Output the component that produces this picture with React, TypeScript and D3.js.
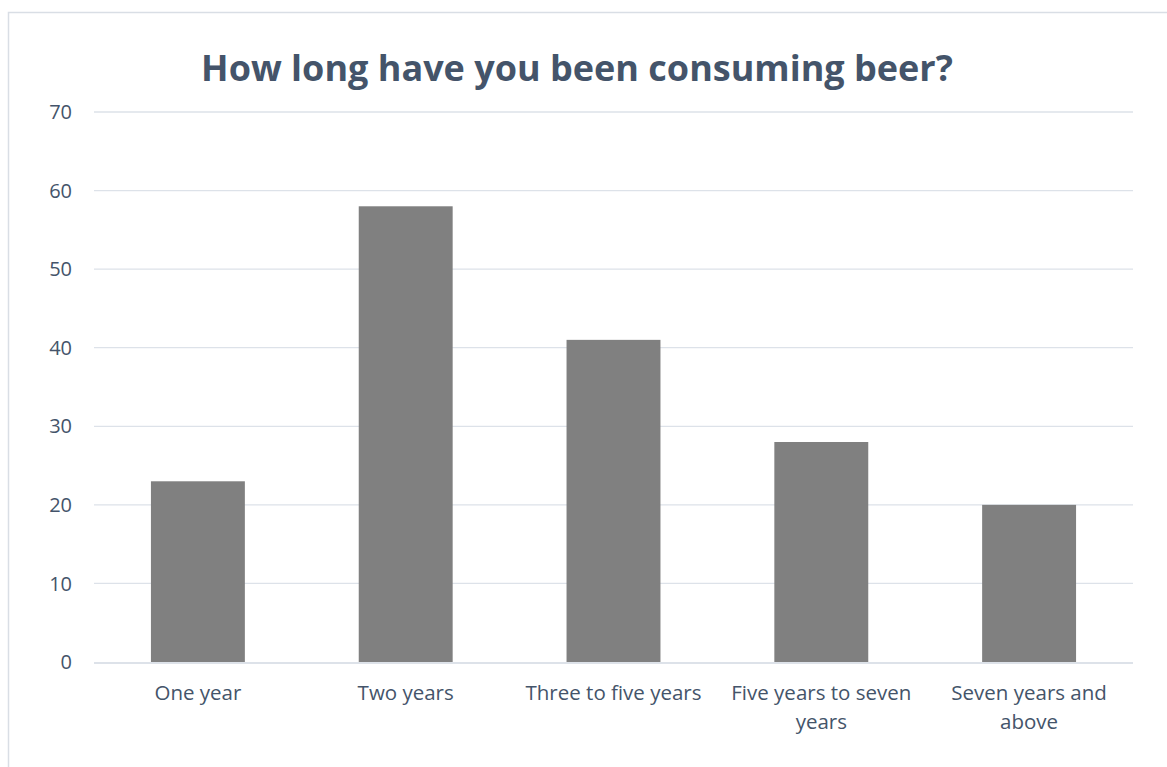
import React from "react";
import * as d3 from "d3";

const title = "How long have you been consuming beer?";
const categories = ["One year", "Two years", "Three to five years", "Five years to seven years", "Seven years and above"];
const values = [23, 58, 41, 28, 20];
const yTicks = [0, 10, 20, 30, 40, 50, 60, 70];

const W = 1167;
const H = 767;
const FONT = "'Open Sans', 'Noto Sans', sans-serif";
const TEXT = "#44546A";
const GRID = "#DDE2E9";
const BAR = "#808080";

function wrap(label: string, maxW: number, font: string): string[] {
  const c = document.createElement("canvas").getContext("2d");
  if (!c) return [label];
  c.font = font;
  const words = label.split(" ");
  const lines: string[] = [];
  let cur = "";
  for (const w of words) {
    const t = cur ? cur + " " + w : w;
    if (c.measureText(t).width > maxW && cur) {
      lines.push(cur);
      cur = w;
    } else cur = t;
  }
  if (cur) lines.push(cur);
  return lines;
}

export default function App() {
  const left = 94, right = 1133, top = 112, bottom = 662;
  const x = d3.scaleBand<string>().domain(categories).range([left, right]).paddingInner(0.548).paddingOuter(0.274);
  const y = d3.scaleLinear().domain([0, 70]).range([bottom, top]);
  const labelSize = 20.5;
  const labelFont = `${labelSize}px 'Open Sans'`;
  return (
    <svg width={W} height={H} style={{ position: "absolute", left: 0, top: 0, background: "#fff" }} fontFamily={FONT}>
      <rect x={8.5} y={12.5} width={W + 10} height={H + 10} fill="#fff" stroke="#D9DEE5" strokeWidth={1.5} />
      <text x={577} y={81} textAnchor="middle" fontSize={36} fontWeight={700} fill={TEXT}>{title}</text>
      {yTicks.map((t) => (
        <g key={t}>
          {t > 0 && <line x1={left} x2={right} y1={y(t)} y2={y(t)} stroke={GRID} strokeWidth={1.3} />}
          <text x={72} y={y(t)} dy="0.36em" textAnchor="end" fontSize={20} fill={TEXT}>{t}</text>
        </g>
      ))}
      {categories.map((c, i) => (
        <rect key={c} x={x(c)} y={y(values[i])} width={x.bandwidth()} height={y(0) - y(values[i])} fill={BAR} />
      ))}
      <line x1={left} x2={right} y1={y(0) + 1} y2={y(0) + 1} stroke={GRID} strokeWidth={2} />
      {categories.map((c) => {
        const lines = wrap(c, x.step() - 6, labelFont);
        const cx = (x(c) as number) + x.bandwidth() / 2;
        return (
          <text key={c} textAnchor="middle" fontSize={labelSize} fill={TEXT}>
            {lines.map((l, j) => (
              <tspan key={j} x={cx} y={700 + j * 29}>{l}</tspan>
            ))}
          </text>
        );
      })}
    </svg>
  );
}
